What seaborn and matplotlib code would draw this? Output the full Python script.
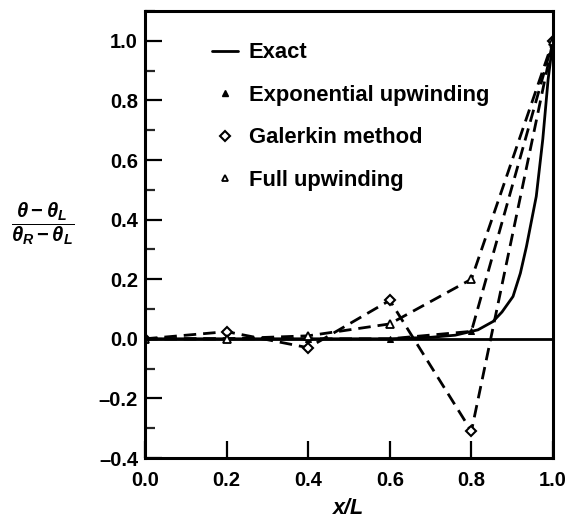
import numpy as np
import pandas as pd
import matplotlib
matplotlib.use("Agg")
import matplotlib.pyplot as plt
import seaborn as sns
from matplotlib.lines import Line2D
from matplotlib.ticker import MultipleLocator

# values
node_x = [0.0, 0.2, 0.4, 0.6, 0.8, 1.0]
exp_upwind = [0.0, 0.0, 0.0, 0.0, 0.025, 1.0]
galerkin = [0.0, 0.024, -0.03, 0.129, -0.31, 1.0]
full_upwind = [0.0, 0.0, 0.01, 0.05, 0.20, 1.0]

exact_x = [0.0, 0.2, 0.4, 0.6, 0.7, 0.76, 0.816, 0.853, 0.875, 0.902, 0.92,
           0.935, 0.959, 0.975, 0.988, 1.0]
exact_y = [0.0, 0.0, 0.0, 0.0, 0.005, 0.012, 0.03, 0.058, 0.09, 0.142, 0.22,
           0.31, 0.478, 0.67, 0.87, 1.0]

sns.set_style("white")
plt.rcParams["font.family"] = ["Liberation Sans", "DejaVu Sans"]
plt.rcParams["text.color"] = "black"
plt.rcParams["axes.labelcolor"] = "black"
plt.rcParams["mathtext.fontset"] = "custom"
plt.rcParams["mathtext.it"] = "Liberation Sans:italic:bold"
plt.rcParams["mathtext.rm"] = "Liberation Sans:bold"

fig = plt.figure(figsize=(5.70, 5.21), dpi=100)
ax = fig.add_axes([145 / 570, 63 / 521, 408 / 570, 447 / 521])

ink = "black"
dash = (4.5, 2.5)

ax.axhline(0, color=ink, lw=2, zorder=1)

sns.lineplot(x=exact_x, y=exact_y, ax=ax, color=ink, lw=2, sort=False)
sns.lineplot(x=node_x, y=exp_upwind, ax=ax, color=ink, lw=2,
             linestyle=(0, dash), marker="^", markersize=5, markeredgecolor=ink,
             markerfacecolor=ink, sort=False)
sns.lineplot(x=node_x, y=galerkin, ax=ax, color=ink, lw=2,
             linestyle=(0, dash), marker="D", markersize=5.5, markeredgewidth=1.5,
             markeredgecolor=ink, markerfacecolor="white", sort=False)
sns.lineplot(x=node_x, y=full_upwind, ax=ax, color=ink, lw=2,
             linestyle=(0, dash), marker="^", markersize=5.5, markeredgewidth=1.3,
             markeredgecolor=ink, markerfacecolor="white", sort=False)

ax.set_xlim(0, 1.0)
ax.set_ylim(-0.4, 1.1)
ax.yaxis.set_minor_locator(MultipleLocator(0.1))
ax.set_xticks([0.0, 0.2, 0.4, 0.6, 0.8, 1.0])
ax.set_xticklabels(["0.0", "0.2", "0.4", "0.6", "0.8", "1.0"])
ax.set_yticks([-0.4, -0.2, 0.0, 0.2, 0.4, 0.6, 0.8, 1.0])
ax.set_yticklabels(["\u20130.4", "\u20130.2", "0.0", "0.2", "0.4", "0.6", "0.8", "1.0"])

ax.tick_params(axis="x", which="major", direction="in", length=12, width=1.6,
               labelsize=14.5, pad=9, colors=ink)
ax.tick_params(axis="y", which="major", direction="in", length=12, width=1.6,
               labelsize=14.5, pad=5, colors=ink, left=True)
ax.tick_params(axis="y", which="minor", direction="in", length=7, width=1.6, left=True)
ax.tick_params(bottom=True, top=False, right=False)
for lab in ax.get_xticklabels() + ax.get_yticklabels():
    lab.set_fontweight("bold")

for sp in ax.spines.values():
    sp.set_visible(True)
    sp.set_color(ink)
    sp.set_linewidth(2.2)

ax.set_xlabel("x/L", fontsize=15.5, fontweight="bold", fontstyle="italic",
              labelpad=6, color=ink)
ax.set_ylabel(r"$\dfrac{\theta - \theta_L}{\theta_R - \theta_L}$", fontsize=14.5,
              rotation=0, ha="center", va="center", color=ink)
ax.yaxis.set_label_coords(-0.252, 0.525)

handles = [
    Line2D([], [], color=ink, lw=2),
    Line2D([], [], ls="none", marker="^", markersize=5, color=ink),
    Line2D([], [], ls="none", marker="D", markersize=5, markeredgewidth=1.5,
           markeredgecolor=ink, markerfacecolor="white"),
    Line2D([], [], ls="none", marker="^", markersize=4.5, markeredgewidth=1.3,
           markeredgecolor=ink, markerfacecolor="white"),
]
labels = ["Exact", "Exponential upwinding", "Galerkin method", "Full upwinding"]
leg = ax.legend(handles, labels, loc="upper left", bbox_to_anchor=(0.165, 0.93),
                frameon=False, handlelength=1.15, handletextpad=0.5,
                labelspacing=0.98, borderpad=0, borderaxespad=0,
                prop={"weight": "bold", "size": 15.8})
for t in leg.get_texts():
    t.set_color(ink)

fig.savefig("out.png", dpi=100, facecolor="white")
